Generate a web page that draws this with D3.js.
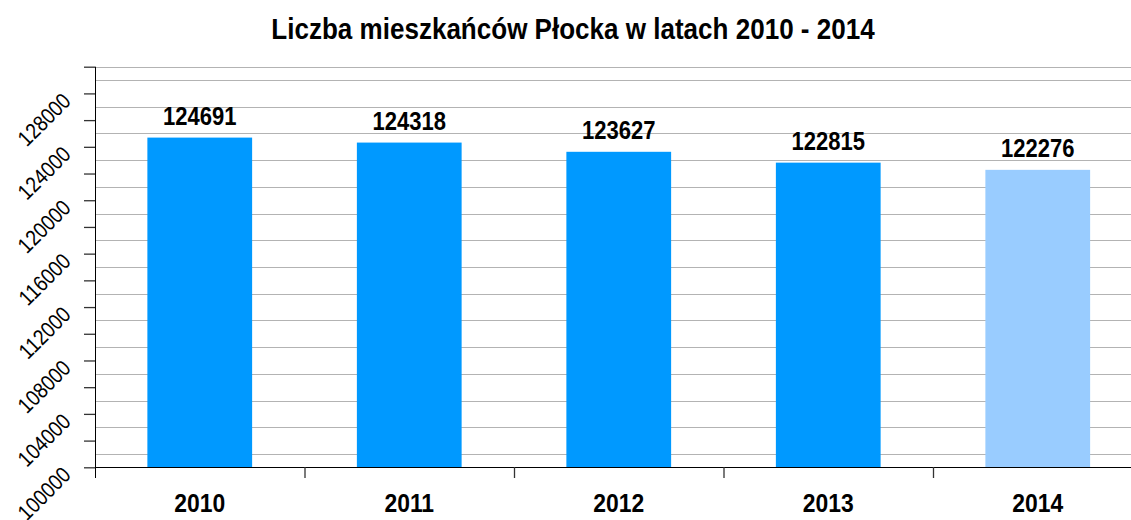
<!DOCTYPE html>
<html>
<head>
<meta charset="utf-8">
<script src="https://cdn.jsdelivr.net/npm/d3@7"></script>
<style>
  body { margin: 0; background: #fff; }
  text { font-family: "Liberation Sans Narrow", "Liberation Sans", Arial, sans-serif; }
</style>
</head>
<body>
<script>
var years = ["2010", "2011", "2012", "2013", "2014"];
var population = [124691, 124318, 123627, 122815, 122276];
var barColors = ["#0099ff", "#0099ff", "#0099ff", "#0099ff", "#99ccff"];
var yTickValues = [100000, 104000, 108000, 112000, 116000, 120000, 124000, 128000];

function draw() {
    var width = 1131, height = 520;
    var narrow = 0.87;   // brak fontu "Narrow" – ściskamy tekst w poziomie
    var svg = d3.select("body")
        .append("svg")
        .attr("width", width)
        .attr("height", height);

    var x = d3.scaleBand()
        .domain(years)
        .range([95, 1142.5])
        .padding(0);

    var y = d3.scaleLinear()
        .domain([100000, 130000])
        .range([467.3, 66.7]);

    // linie siatki (co 2000, przesunięte o 1000) + górna krawędź
    var gridVals = d3.range(101000, 130000, 2000).concat([130000]);
    svg.append("g")
        .selectAll("line")
        .data(gridVals)
        .join("line")
        .attr("x1", 95)
        .attr("x2", width)
        .attr("y1", d => Math.round(y(d)) + 0.5)
        .attr("y2", d => Math.round(y(d)) + 0.5)
        .style("stroke", "#b3b3b3")
        .style("stroke-width", 1);

    // słupki
    svg.append("g")
        .selectAll("rect")
        .data(population)
        .join("rect")
        .attr("x", (d, i) => x(years[i]) + x.bandwidth() * 0.25)
        .attr("width", x.bandwidth() * 0.5)
        .attr("y", d => y(d))
        .attr("height", d => y(100000) - y(d))
        .style("fill", (d, i) => barColors[i]);

    // etykiety wartości
    svg.append("g")
        .selectAll("text")
        .data(population)
        .join("text")
        .attr("transform", (d, i) => "translate(" + (x(years[i]) + x.bandwidth() / 2) + "," + (y(d) - 12.5) + ") scale(0.88,1)")
        .attr("text-anchor", "middle")
        .style("font-size", "25px")
        .style("font-weight", "bold")
        .text(d => d);

    // oś Y
    var yAxis = svg.append("g")
        .attr("transform", "translate(95,0)")
        .call(d3.axisLeft(y)
            .tickValues(d3.range(100000, 130001, 2000))
            .tickSize(11)
            .tickFormat(""));
    yAxis.select(".domain").remove();
    yAxis.selectAll(".tick line").style("stroke", "#333").style("stroke-width", 1.3);
    svg.append("line")
        .attr("x1", 95.5).attr("x2", 95.5)
        .attr("y1", y(130000)).attr("y2", 478)
        .style("stroke", "#000");

    svg.append("g")
        .selectAll("text")
        .data(yTickValues)
        .join("text")
        .attr("transform", d => "translate(72," + (y(d) + 9) + ") rotate(-45) scale(" + narrow + ",1)")
        .attr("text-anchor", "end")
        .style("font-size", "22px")
        .text(d => d);

    // oś X
    svg.append("line")
        .attr("x1", 95).attr("x2", width)
        .attr("y1", 467.5).attr("y2", 467.5)
        .style("stroke", "#000");
    svg.append("g")
        .selectAll("line")
        .data(years.slice(1))
        .join("line")
        .attr("x1", d => x(d) + 0.5)
        .attr("x2", d => x(d) + 0.5)
        .attr("y1", 467)
        .attr("y2", 478)
        .style("stroke", "#333")
        .style("stroke-width", 1.3);

    svg.append("g")
        .selectAll("text")
        .data(years)
        .join("text")
        .attr("transform", d => "translate(" + (x(d) + x.bandwidth() / 2) + ",512) scale(0.88,1)")
        .attr("text-anchor", "middle")
        .style("font-size", "26px")
        .style("font-weight", "bold")
        .text(d => d);

    // tytuł
    svg.append("text")
        .attr("transform", "translate(573,39) scale(0.868,1)")
        .attr("text-anchor", "middle")
        .style("font-size", "30px")
        .style("font-weight", "bold")
        .text("Liczba mieszkańców Płocka w latach 2010 - 2014");
}
draw();
</script>
</body>
</html>
